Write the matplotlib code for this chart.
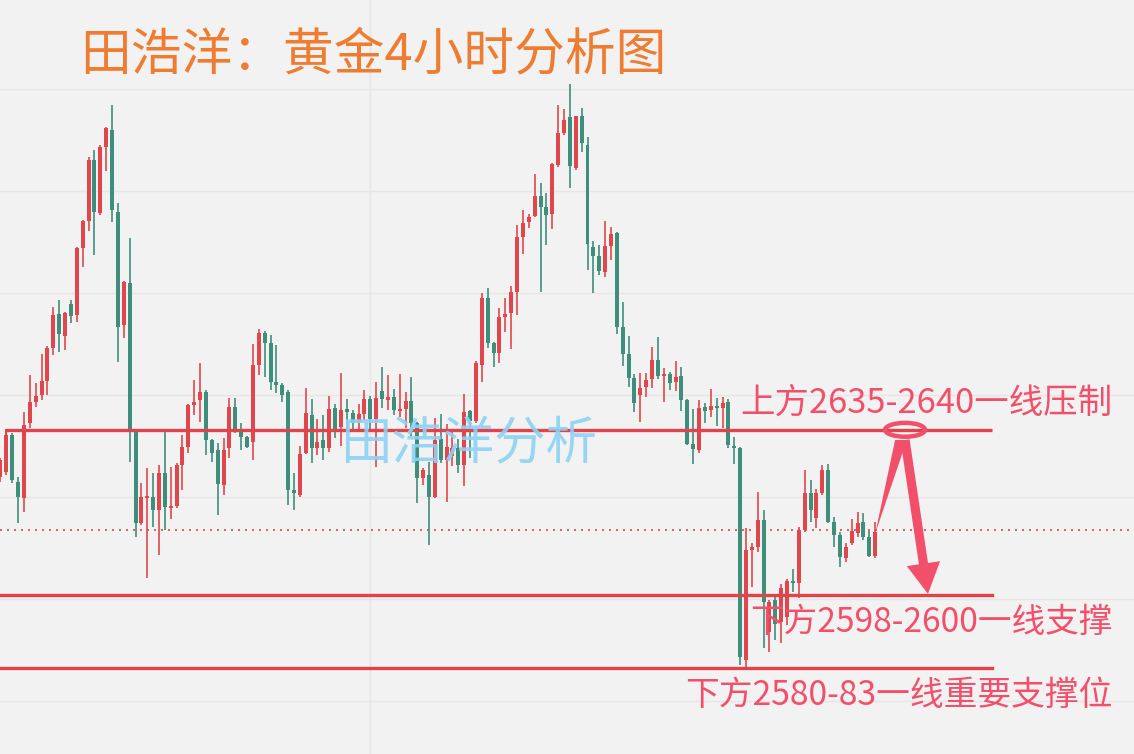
import matplotlib
matplotlib.use("Agg")
import matplotlib.pyplot as plt
from matplotlib.patches import Ellipse, Polygon
import numpy as np

# ---- data (gold 4H candles) ----
opens = [2629.9, 2631.2, 2640.2, 2628.7, 2624.8, 2643.2, 2648.3, 2650.0, 2653.5, 2661.5,
         2669.9, 2664.5, 2672.3, 2669.6, 2686.0, 2692.7, 2707.6, 2694.6, 2710.8, 2714.9,
         2694.9, 2667.2, 2677.5, 2641.0, 2618.7, 2624.8, 2625.0, 2621.9, 2630.9, 2622.3,
         2622.8, 2632.9, 2637.3, 2647.6, 2648.8, 2650.8, 2639.0, 2636.6, 2628.0, 2637.0,
         2647.1, 2641.0, 2639.7, 2638.5, 2657.4, 2665.2, 2662.8, 2653.2, 2652.5, 2650.8,
         2626.7, 2625.5, 2635.8, 2645.1, 2637.0, 2639.0, 2637.0, 2646.8, 2642.2, 2646.6,
         2645.6, 2643.4, 2645.4, 2649.0, 2644.1, 2651.0, 2648.8, 2649.5, 2646.1, 2646.6,
         2648.5, 2643.2, 2629.7, 2630.4, 2625.0, 2639.2, 2634.1, 2635.1, 2637.0, 2632.9,
         2646.1, 2643.7, 2657.4, 2673.8, 2662.8, 2660.3, 2669.1, 2670.1, 2675.3, 2688.7,
         2692.4, 2693.9, 2698.8, 2696.1, 2694.4, 2706.4, 2714.2, 2718.1, 2705.6, 2718.4,
         2711.3, 2686.3, 2684.1, 2680.2, 2686.5, 2689.7, 2666.7, 2660.1, 2654.2, 2650.0,
         2652.0, 2653.9, 2658.6, 2654.7, 2655.2, 2653.2, 2654.7, 2648.8, 2638.0, 2636.6,
         2647.1, 2646.4, 2647.3, 2646.8, 2648.3, 2637.5, 2637.0, 2585.1, 2612.1, 2612.8,
         2619.4, 2592.0, 2599.8, 2594.4, 2595.6, 2604.5, 2604.0, 2617.0, 2626.0, 2619.9,
         2626.0, 2631.6, 2618.9, 2615.7, 2610.1, 2613.8, 2616.2, 2618.9, 2615.2, 2610.6]
highs = [2634.6, 2641.5, 2640.7, 2629.9, 2645.9, 2654.9, 2653.0, 2660.1, 2662.0, 2671.5,
         2673.3, 2670.4, 2673.3, 2686.3, 2692.9, 2708.3, 2710.0, 2711.3, 2715.7, 2721.1,
         2697.1, 2678.0, 2688.5, 2641.5, 2628.5, 2632.1, 2630.9, 2632.9, 2641.5, 2632.4,
         2633.4, 2640.2, 2647.8, 2653.7, 2657.9, 2651.3, 2639.2, 2638.3, 2639.5, 2649.3,
         2649.3, 2643.2, 2640.0, 2662.5, 2666.2, 2665.7, 2664.7, 2662.3, 2653.0, 2651.3,
         2630.9, 2637.5, 2651.7, 2649.0, 2644.1, 2645.1, 2649.8, 2647.8, 2655.4, 2649.0,
         2646.4, 2647.8, 2651.3, 2649.8, 2653.2, 2656.9, 2654.9, 2651.5, 2655.2, 2650.8,
         2654.4, 2643.4, 2632.1, 2633.6, 2644.4, 2645.4, 2642.9, 2641.7, 2639.2, 2650.3,
         2646.4, 2658.4, 2675.0, 2676.2, 2663.0, 2671.3, 2673.8, 2676.7, 2691.7, 2695.3,
         2694.4, 2704.2, 2702.0, 2699.5, 2706.9, 2721.1, 2720.1, 2726.2, 2718.4, 2720.3,
         2713.2, 2687.8, 2686.8, 2692.7, 2691.2, 2690.0, 2672.8, 2664.5, 2655.2, 2655.4,
         2655.4, 2661.8, 2664.2, 2656.6, 2655.7, 2658.4, 2656.9, 2649.0, 2646.6, 2648.8,
         2648.1, 2651.5, 2649.3, 2649.5, 2649.0, 2639.7, 2637.3, 2617.4, 2613.8, 2626.3,
         2621.9, 2599.8, 2600.5, 2603.7, 2605.0, 2607.4, 2617.7, 2631.6, 2629.2, 2627.0,
         2632.9, 2633.1, 2620.1, 2616.5, 2613.8, 2619.6, 2621.4, 2621.1, 2616.7, 2618.9]
lows = [2628.7, 2630.5, 2628.5, 2618.7, 2621.4, 2641.9, 2647.1, 2648.8, 2650.0, 2659.8,
        2660.5, 2661.0, 2667.7, 2667.9, 2681.4, 2690.2, 2684.3, 2694.2, 2704.9, 2692.4,
        2658.1, 2664.0, 2633.6, 2615.2, 2618.2, 2605.2, 2617.7, 2610.8, 2617.0, 2619.6,
        2622.3, 2626.7, 2635.8, 2645.1, 2643.4, 2635.3, 2633.6, 2620.6, 2625.5, 2634.6,
        2640.7, 2636.6, 2637.0, 2634.1, 2654.9, 2654.4, 2651.3, 2650.5, 2648.3, 2623.1,
        2621.9, 2625.0, 2635.6, 2633.4, 2635.3, 2634.1, 2636.1, 2639.5, 2637.5, 2641.5,
        2641.5, 2641.5, 2643.9, 2641.0, 2632.4, 2646.8, 2646.4, 2645.1, 2644.6, 2641.9,
        2639.7, 2623.6, 2628.0, 2613.3, 2624.8, 2633.4, 2623.8, 2632.6, 2630.9, 2627.7,
        2634.6, 2643.2, 2653.2, 2661.5, 2656.9, 2657.9, 2665.5, 2661.3, 2669.6, 2684.6,
        2690.9, 2693.6, 2675.3, 2686.8, 2690.7, 2705.9, 2713.7, 2700.7, 2705.1, 2709.6,
        2680.7, 2675.0, 2679.4, 2678.9, 2683.1, 2665.0, 2657.1, 2652.0, 2645.9, 2643.4,
        2649.5, 2651.7, 2653.9, 2648.3, 2651.3, 2651.0, 2646.1, 2637.8, 2633.1, 2635.8,
        2643.2, 2644.6, 2642.4, 2641.9, 2637.0, 2633.1, 2583.9, 2583.1, 2603.0, 2611.6,
        2588.0, 2587.1, 2590.0, 2589.3, 2593.7, 2601.8, 2600.3, 2616.5, 2618.9, 2617.4,
        2625.5, 2618.7, 2612.8, 2607.9, 2609.1, 2613.3, 2615.2, 2614.5, 2610.3, 2610.1]
closes = [2634.1, 2640.2, 2629.2, 2625.0, 2642.7, 2648.3, 2649.8, 2653.5, 2661.5, 2669.6,
          2665.0, 2670.1, 2669.4, 2686.0, 2692.7, 2707.6, 2694.9, 2710.8, 2715.4, 2695.3,
          2666.7, 2677.7, 2641.0, 2618.7, 2625.0, 2625.3, 2621.9, 2630.9, 2622.6, 2622.8,
          2632.9, 2637.3, 2647.6, 2648.3, 2650.8, 2639.0, 2635.8, 2628.2, 2636.6, 2647.1,
          2641.0, 2639.7, 2637.3, 2657.4, 2665.2, 2662.8, 2653.2, 2652.5, 2650.0, 2626.7,
          2626.0, 2635.6, 2645.6, 2637.0, 2638.5, 2637.0, 2646.6, 2641.5, 2646.4, 2645.9,
          2643.2, 2645.4, 2649.0, 2644.1, 2649.3, 2649.0, 2649.5, 2646.4, 2646.6, 2648.5,
          2643.2, 2629.7, 2631.6, 2625.0, 2639.0, 2634.1, 2637.3, 2637.0, 2632.9, 2645.9,
          2643.7, 2657.9, 2673.8, 2662.8, 2660.3, 2669.1, 2669.9, 2675.3, 2688.7, 2692.2,
          2693.6, 2698.8, 2696.1, 2694.1, 2706.6, 2714.2, 2717.4, 2706.1, 2718.4, 2711.8,
          2687.0, 2684.1, 2680.4, 2686.5, 2689.5, 2666.7, 2660.1, 2654.2, 2648.1, 2651.7,
          2653.7, 2658.6, 2654.7, 2655.2, 2653.0, 2654.4, 2648.8, 2638.0, 2636.8, 2646.8,
          2646.1, 2647.3, 2646.8, 2648.1, 2637.8, 2637.0, 2585.8, 2612.1, 2612.8, 2619.4,
          2599.3, 2599.3, 2593.9, 2602.7, 2604.5, 2604.0, 2617.0, 2626.0, 2621.9, 2626.0,
          2631.6, 2618.9, 2615.7, 2610.3, 2612.8, 2616.7, 2618.7, 2615.2, 2610.6, 2616.5]

resistance_level = 2641.5
support_level = 2601.0
key_support_level = 2583.1
grid_levels = [2575, 2600, 2625, 2650, 2675, 2700, 2725]

title_text = "田浩洋：黄金4小时分析图"
watermark_text = "田浩洋分析"
label_resist = "上方2635-2640一线压制"
label_support = "下方2598-2600一线支撑"
label_key = "下方2580-83一线重要支撑位"

# ---- style ----
BG = "#F2F2F2"
UP = "#E0474C"
DOWN = "#3E8E7C"
LINE = "#E0434B"
ANN = "#F2506A"
CJK = ["Noto Sans CJK SC", "DejaVu Sans"]

fig = plt.figure(figsize=(11.34, 7.54), dpi=100, facecolor=BG)
ax = fig.add_axes([0, 0, 1, 1], facecolor=BG)
ax.set_xlim(-0.085, 193.1)
ax.set_ylim(2562.07, 2746.8)
ax.axis("off")
ax.add_patch(plt.Rectangle((0, 0), 1, 1, transform=ax.transAxes, color=BG, zorder=-5))

for g in grid_levels:
    ax.axhline(g, color="#E6E6E6", lw=1.0, zorder=0)
ax.axvline(62.9, color="#E6E6E6", lw=1.0, zorder=0)

o = np.array(opens); h = np.array(highs); l = np.array(lows); c = np.array(closes)
x = np.arange(len(o))
cols = np.where(c >= o, UP, DOWN)
ax.vlines(x, l, h, colors=cols, lw=1.2, zorder=2)
bottom = np.minimum(o, c)
height = np.maximum(np.abs(c - o), 0.45)
ax.bar(x, height, bottom=bottom, width=0.68, color=cols, zorder=3, linewidth=0)

# horizontal levels
xend = 168.9
ax.plot([0.95, xend], [resistance_level, resistance_level], color=LINE, lw=2.4, zorder=4,
        solid_capstyle="butt")
ax.plot([0.95, 0.95], [resistance_level, resistance_level - 2.0], color=LINE, lw=1.5, zorder=4)
ax.plot([-1, xend], [support_level, support_level], color=LINE, lw=2.4, zorder=4)
ax.plot([-1, xend], [key_support_level, key_support_level], color=LINE, lw=2.4, zorder=4)
ax.axhline(closes[-1] + 0.5, color=LINE, lw=1.2, ls=(0, (1.2, 3.0)), zorder=1)

# labels
xr = 189.4
ax.text(xr, resistance_level + 6.6, label_resist, ha="right", va="center",
        fontsize=24.8, color=ANN, family=CJK, zorder=6)
ax.text(xr, support_level - 6.6, label_support, ha="right", va="center",
        fontsize=24.2, color=ANN, family=CJK, zorder=6)
ax.text(xr, key_support_level - 6.6, label_key, ha="right", va="center",
        fontsize=24.3, color=ANN, family=CJK, zorder=6)

# ellipse + arrows
last = len(closes) - 1
ex = last + 5.1
ax.add_patch(Ellipse((ex, resistance_level), 6.8, 3.4, fill=False, ec=ANN, lw=3.2, zorder=7))
ax.add_patch(Polygon([(last, closes[-1] - 0.5), (ex - 1.7, resistance_level - 2.5),
                      (ex + 0.3, resistance_level - 2.5)], closed=True, color=ANN, lw=0, zorder=7))
ax.annotate("", xy=(last + 9.0, support_level + 0.3), xytext=(ex, resistance_level - 2.5),
            arrowprops=dict(arrowstyle="simple,head_length=1.0,head_width=1.1,tail_width=0.3",
                            color=ANN, mutation_scale=22, shrinkA=0, shrinkB=0, lw=0),
            zorder=7)

# title & watermark
fig.text(80 / 1134, 1 - 55 / 754, title_text, ha="left", va="center", fontsize=36.5,
         color="#EE7D31", family=CJK)
ax.text(340 / 1134, 1 - 445 / 754, watermark_text, transform=ax.transAxes, ha="left",
        va="center", fontsize=37, color="#8CD2F5", alpha=0.9, family=CJK, zorder=5)

fig.savefig("out.png", dpi=100, facecolor=BG)
